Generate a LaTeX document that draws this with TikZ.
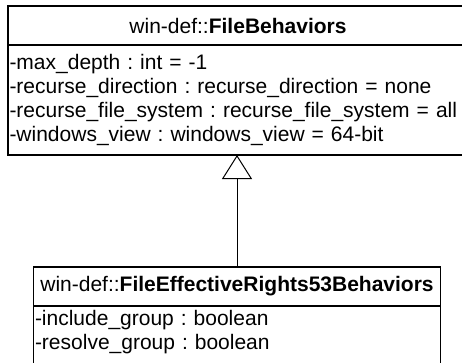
\documentclass[tikz,border=0pt]{standalone}
\usepackage{fontspec}
\setmainfont{Liberation Sans}
\usetikzlibrary{positioning,arrows.meta}
\begin{document}
\frenchspacing
\begin{tikzpicture}
[
    x=1pt, y=1pt,
    every node/.style={font=\fontsize{21}{24}\selectfont, outer sep=0pt},
    classname/.style={draw, line width=1.5pt, minimum height=39pt, inner sep=0pt},
    attrs/.style={draw, line width=1.5pt, align=left, inner xsep=1.5pt},
    extends/.style={-{Triangle[open, length=24pt, width=30pt]}, line width=1pt},
]
\clip (0,0) rectangle (462,-362);
\node[classname, minimum width=460pt, anchor=north west] (filebeh) at (8,-6)
    {win-def::\textbf{FileBehaviors}};
\node[attrs, below=0pt of filebeh, text width=457pt, minimum height=110pt] (filebehattrs)
    {-max\_depth : int = -1\\
     -recurse\_direction : recurse\_direction = none\\
     -recurse\_file\_system : recurse\_file\_system = all\\
     -windows\_view : windows\_view = 64-bit};
\node[classname, minimum width=407pt, anchor=north] (ferbeh) at (237,-267)
    {win-def::\textbf{FileEffectiveRights53Behaviors}};
\node[attrs, below=0pt of ferbeh, text width=404pt, inner ysep=4pt] (ferbehattrs)
    {-include\_group : boolean\\
     -resolve\_group : boolean\rule[-40pt]{0pt}{40pt}};
\draw[extends] (ferbeh.north) -- (ferbeh.north |- filebehattrs.south);
\end{tikzpicture}
\end{document}
